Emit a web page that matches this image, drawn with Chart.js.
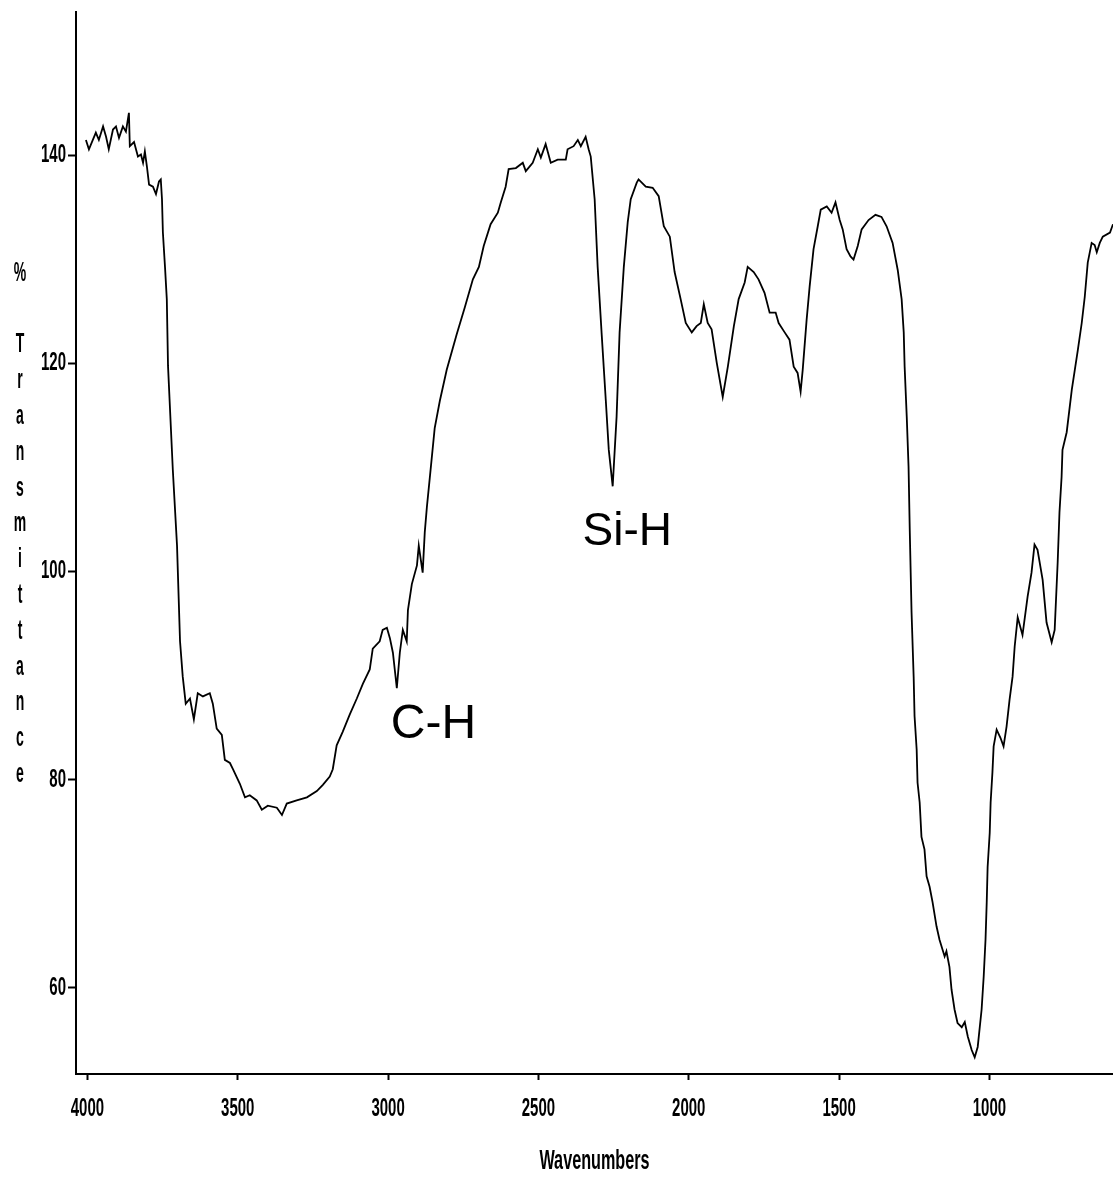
<!DOCTYPE html>
<html>
<head>
<meta charset="utf-8">
<script src="https://cdn.jsdelivr.net/npm/chart.js@4.4.1/dist/chart.umd.min.js"></script>
<style>
  html, body { margin: 0; padding: 0; background: #fff; }
  #wrap { width: 1113px; height: 1178px; position: relative; }
</style>
</head>
<body>
<div id="wrap"><canvas id="irChart"></canvas></div>
<script>
// IR spectrum, values
const wavenumbers = [
  4005, 3995, 3982, 3972, 3962, 3948, 3938, 3929, 3915, 3905, 3895, 3882, 3872, 3862, 3859, 3845,
  3832, 3822, 3815, 3809, 3802, 3795, 3782, 3772, 3762, 3756, 3752, 3749, 3742, 3736, 3732, 3716,
  3702, 3692, 3683, 3673, 3659, 3646, 3633, 3616, 3593, 3583, 3570, 3553, 3543, 3526, 3516, 3493,
  3476, 3460, 3437, 3420, 3400, 3370, 3353, 3337, 3304, 3270, 3237, 3217, 3194, 3184, 3171, 3151,
  3127, 3104, 3084, 3061, 3051, 3028, 3018, 3004, 2994, 2984, 2971, 2961, 2951, 2938, 2934, 2921,
  2904, 2898, 2885, 2878, 2871, 2861, 2845, 2828, 2805, 2772, 2745, 2718, 2698, 2682, 2659, 2635,
  2625, 2609, 2599, 2575, 2552, 2542, 2519, 2502, 2492, 2476, 2459, 2436, 2409, 2403, 2383, 2369,
  2359, 2343, 2333, 2326, 2313, 2303, 2290, 2276, 2266, 2253, 2240, 2230, 2216, 2203, 2193, 2173,
  2167, 2143, 2120, 2100, 2083, 2063, 2047, 2027, 2010, 1990, 1974, 1960, 1950, 1937, 1924, 1907,
  1887, 1870, 1850, 1834, 1814, 1804, 1784, 1768, 1748, 1731, 1711, 1701, 1681, 1665, 1651, 1638,
  1628, 1621, 1608, 1598, 1585, 1571, 1561, 1541, 1525, 1512, 1498, 1488, 1475, 1462, 1452, 1438,
  1425, 1402, 1379, 1359, 1342, 1322, 1305, 1292, 1285, 1282, 1275, 1269, 1265, 1259, 1252, 1249,
  1242, 1239, 1232, 1226, 1216, 1209, 1199, 1189, 1176, 1166, 1149, 1143, 1133, 1126, 1116, 1106,
  1092, 1082, 1072, 1059, 1049, 1039, 1026, 1019, 1013, 1009, 1006, 999, 996, 990, 986, 976,
  963, 953, 943, 933, 923, 916, 906, 890, 873, 860, 850, 840, 823, 810, 793, 783,
  773, 767, 760, 757, 743, 726, 716, 706, 693, 683, 673, 660, 650, 643, 633, 623,
  599, 589
];
const transmittance = [
  141.5, 140.6, 141.5, 142.2, 141.5, 142.8, 141.8, 140.6, 142.5, 142.8, 141.7, 142.8, 142.3, 144.1, 140.9, 141.3,
  139.9, 140.1, 139.3, 140.4, 138.9, 137.2, 137.0, 136.3, 137.5, 137.7, 135.8, 132.6, 129.3, 126.2, 119.8, 109.8,
  102.5, 93.3, 89.9, 87.3, 87.8, 85.8, 88.3, 88.0, 88.3, 87.3, 84.9, 84.3, 81.9, 81.6, 81.0, 79.6,
  78.3, 78.5, 78.0, 77.1, 77.5, 77.3, 76.6, 77.7, 78.0, 78.3, 78.9, 79.5, 80.3, 81.0, 83.3, 84.6,
  86.3, 87.8, 89.2, 90.6, 92.6, 93.3, 94.4, 94.6, 93.6, 92.2, 88.8, 92.2, 94.4, 93.3, 96.3, 98.8,
  100.6, 102.5, 99.9, 103.8, 106.2, 109.1, 113.8, 116.4, 119.4, 122.8, 125.4, 128.1, 129.3, 131.3, 133.4, 134.5,
  135.5, 137.0, 138.7, 138.8, 139.3, 138.5, 139.3, 140.6, 139.8, 141.1, 139.3, 139.6, 139.6, 140.6, 140.9, 141.5,
  140.9, 141.8, 140.6, 139.9, 135.8, 129.3, 123.0, 116.5, 111.7, 108.2, 114.9, 123.0, 129.3, 133.6, 135.8, 137.4,
  137.7, 137.0, 136.9, 136.1, 133.2, 132.2, 128.8, 126.2, 123.9, 123.0, 123.6, 123.9, 125.7, 123.9, 123.3, 120.1,
  116.8, 119.7, 123.6, 126.2, 127.8, 129.3, 128.8, 128.1, 126.8, 124.9, 124.9, 123.9, 123.0, 122.3, 119.7, 119.1,
  117.3, 119.4, 124.2, 127.4, 131.0, 133.2, 134.8, 135.1, 134.5, 135.5, 133.8, 132.9, 131.0, 130.3, 130.0, 131.3,
  132.9, 133.8, 134.3, 134.1, 133.2, 131.6, 129.0, 126.2, 123.0, 119.7, 114.9, 110.1, 104.0, 96.1, 89.9, 86.1,
  82.9, 79.7, 77.8, 74.5, 73.3, 70.7, 69.7, 68.2, 65.9, 64.6, 63.0, 63.5, 62.0, 59.8, 57.9, 56.6,
  56.2, 56.7, 55.3, 54.0, 53.3, 54.3, 57.9, 61.1, 64.6, 68.2, 71.6, 74.9, 77.8, 80.7, 83.2, 84.8,
  84.0, 83.2, 85.1, 87.7, 89.9, 92.8, 95.6, 93.9, 97.6, 99.9, 102.6, 102.1, 99.2, 95.1, 93.2, 94.4,
  100.9, 105.7, 109.1, 111.7, 113.4, 117.5, 119.4, 121.3, 123.9, 126.4, 129.7, 131.6, 131.4, 130.7, 131.6, 132.2,
  132.6, 133.4
];
const xTicks = [4000, 3500, 3000, 2500, 2000, 1500, 1000];
const yTicks = [60, 80, 100, 120, 140];
const xTitle = 'Wavenumbers';
const yTitle = ['%', '', 'T', 'r', 'a', 'n', 's', 'm', 'i', 't', 't', 'a', 'n', 'c', 'e'];
const peakNames = ['C-H', 'Si-H'];
const peakAnchors = [[2991, 84.0], [2353, 102.6]]; // text corner in data units

const points = wavenumbers.map((w, i) => ({ x: w, y: transmittance[i] }));

// tall, squeezed bold text like the instrument printout
function squeezed(ctx, text, x, y, size, sx, align) {
  ctx.save();
  ctx.translate(x, y);
  ctx.scale(sx, 1);
  ctx.font = 'bold ' + size + 'px "Liberation Sans", Arial, sans-serif';
  ctx.textAlign = align;
  ctx.textBaseline = 'middle';
  ctx.fillText(text, 0, 0);
  ctx.restore();
}

const labelPlugin = {
  id: 'irLabels',
  beforeDraw(chart) {
    const c = chart.ctx;
    c.save();
    c.fillStyle = '#fff';
    c.fillRect(0, 0, chart.width, chart.height);
    c.restore();
  },
  afterDraw(chart) {
    const { ctx, scales: { x, y } } = chart;
    ctx.save();
    ctx.fillStyle = '#000';
    x.ticks.forEach(t => squeezed(ctx, String(t.value), x.getPixelForValue(t.value), 1109, 25, 0.6, 'center'));
    y.ticks.forEach(t => squeezed(ctx, String(t.value), 66, y.getPixelForValue(t.value), 25, 0.6, 'right'));
    squeezed(ctx, xTitle, (x.left + x.right) / 2, 1162, 27, 0.6, 'center');
    yTitle.forEach((ch, i) => squeezed(ctx, ch, 20, 273 + i * 35.8, 28, 0.5, 'center'));

    ctx.textAlign = 'left';
    ctx.textBaseline = 'alphabetic';
    peakNames.forEach((name, i) => {
      ctx.font = (i === 0 ? 48 : 46) + 'px "Liberation Sans", Arial, sans-serif';
      ctx.fillText(name, x.getPixelForValue(peakAnchors[i][0]), y.getPixelForValue(peakAnchors[i][1]));
    });
    ctx.restore();
  }
};

new Chart(document.getElementById('irChart'), {
  type: 'line',
  data: {
    datasets: [{
      data: points,
      borderColor: '#000',
      borderWidth: 1.8,
      pointRadius: 0,
      tension: 0,
      fill: false
    }]
  },
  options: {
    responsive: true,
    maintainAspectRatio: false,
    animation: false,
    layout: { padding: { top: 12, left: 0, right: 0, bottom: 0 } },
    plugins: { legend: { display: false }, tooltip: { enabled: false } },
    scales: {
      x: {
        type: 'linear',
        reverse: true,
        min: 589,
        max: 4038,
        afterBuildTicks: s => { s.ticks = xTicks.map(v => ({ value: v })); },
        afterFit: s => { s.height = 104; },
        grid: { drawOnChartArea: false, drawTicks: true, tickLength: 6, tickColor: '#000', tickWidth: 2 },
        border: { display: true, color: '#000', width: 2 },
        ticks: { display: false }
      },
      y: {
        type: 'linear',
        min: 51.7,
        max: 153.8,
        afterBuildTicks: s => { s.ticks = yTicks.map(v => ({ value: v })); },
        afterFit: s => { s.width = 76; },
        grid: { drawOnChartArea: false, drawTicks: true, tickLength: 8, tickColor: '#000', tickWidth: 2 },
        border: { display: true, color: '#000', width: 2 },
        ticks: { display: false }
      }
    }
  },
  plugins: [labelPlugin]
});
</script>
</body>
</html>
